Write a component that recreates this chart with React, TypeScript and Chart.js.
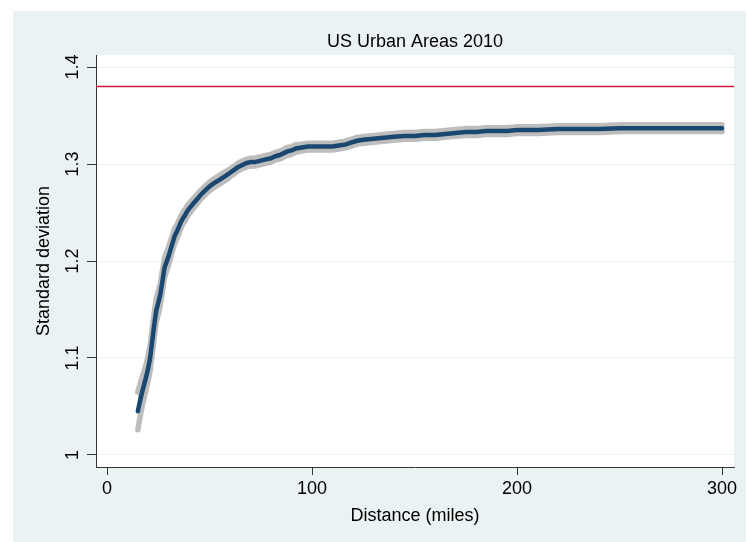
import React, { useEffect, useRef } from "react";
import { Chart, registerables } from "chart.js";

Chart.register(...registerables);

// ---- data ----
const distances = [
  15, 16, 17, 18, 19, 20, 21, 22, 23, 24, 25, 26, 27, 28, 29, 30, 31, 32, 33, 34, 35, 36, 37, 38, 39, 40,
  42, 44, 46, 48, 50, 52, 55, 58,
  60, 62, 64, 66, 68, 70, 72, 74, 76, 78, 80, 82, 84, 86, 88, 90, 92,
  95, 98, 101, 104, 107, 110, 113, 116, 119, 122, 125,
  130, 135, 140, 145, 150, 155, 160, 165, 170, 175, 180, 185, 190, 195, 200,
  210, 220, 230, 240, 250, 260, 270, 280, 290, 300,
];

const sdMean = [
  1.045, 1.055, 1.064, 1.072, 1.08, 1.089, 1.1, 1.117, 1.134, 1.149, 1.157, 1.166, 1.179, 1.193, 1.199, 1.205, 1.212, 1.219, 1.226, 1.23, 1.235, 1.24, 1.244, 1.247, 1.251, 1.254,
  1.259, 1.264, 1.269, 1.273, 1.277, 1.28, 1.284, 1.288,
  1.291, 1.294, 1.297, 1.299, 1.301, 1.302, 1.302, 1.303, 1.304, 1.305, 1.306, 1.308, 1.309, 1.311, 1.313, 1.314, 1.316,
  1.317, 1.318, 1.318, 1.318, 1.318, 1.318, 1.319, 1.32, 1.322, 1.324, 1.325,
  1.326, 1.327, 1.328, 1.329, 1.329, 1.33, 1.33, 1.331, 1.332, 1.333, 1.333, 1.334, 1.334, 1.334, 1.335,
  1.335, 1.336, 1.336, 1.336, 1.337, 1.337, 1.337, 1.337, 1.337, 1.337,
];

const ciUpper = [
  1.065, 1.072, 1.079, 1.086, 1.093, 1.102, 1.113, 1.13, 1.147, 1.161, 1.169, 1.177, 1.19, 1.203, 1.209, 1.214, 1.221, 1.227, 1.234, 1.237, 1.242, 1.246, 1.25, 1.253, 1.2565, 1.2595,
  1.264, 1.269, 1.2735, 1.2775, 1.2815, 1.2845, 1.2885, 1.2925,
  1.295, 1.298, 1.301, 1.303, 1.305, 1.306, 1.306, 1.307, 1.308, 1.309, 1.31, 1.312, 1.313, 1.315, 1.317, 1.318, 1.32,
  1.3205, 1.3215, 1.3215, 1.3215, 1.3215, 1.3215, 1.3225, 1.3235, 1.3255, 1.3275, 1.3285,
  1.3295, 1.3305, 1.3315, 1.3325, 1.3325, 1.3335, 1.3335, 1.3345, 1.3355, 1.3365, 1.3365, 1.3375, 1.3375, 1.3375, 1.3385,
  1.3385, 1.3395, 1.3395, 1.3395, 1.3405, 1.3405, 1.3405, 1.3405, 1.3405, 1.3405,
];

const ciLower = [
  1.026, 1.038, 1.049, 1.058, 1.067, 1.076, 1.087, 1.104, 1.121, 1.137, 1.145, 1.155, 1.168, 1.183, 1.189, 1.196, 1.203, 1.211, 1.218, 1.223, 1.228, 1.234, 1.238, 1.241, 1.2455, 1.2485,
  1.254, 1.259, 1.2645, 1.2685, 1.2725, 1.2755, 1.2795, 1.2835,
  1.287, 1.29, 1.293, 1.295, 1.297, 1.298, 1.298, 1.299, 1.3, 1.301, 1.302, 1.304, 1.305, 1.307, 1.309, 1.31, 1.312,
  1.3135, 1.3145, 1.3145, 1.3145, 1.3145, 1.3145, 1.3155, 1.3165, 1.3185, 1.3205, 1.3215,
  1.3225, 1.3235, 1.3245, 1.3255, 1.3255, 1.3265, 1.3265, 1.3275, 1.3285, 1.3295, 1.3295, 1.3305, 1.3305, 1.3305, 1.3315,
  1.3315, 1.3325, 1.3325, 1.3325, 1.3335, 1.3335, 1.3335, 1.3335, 1.3335, 1.3335,
];

const referenceLevel = 1.38;
const xTicks = [0, 100, 200, 300];
const yTicks = [1, 1.1, 1.2, 1.3, 1.4];
const xRange = [-5.4, 305.8];
const yRange = [0.9876, 1.4124];

const titleText = "US Urban Areas 2010";
const xTitle = "Distance (miles)";
const yTitle = "Standard deviation";

// ---- styles ----
const FONT = "'Liberation Sans', Arial, Helvetica, sans-serif";
const OUTER_BG = "#eaf2f3";
const AXIS = "#333333";
const NAVY = "#1a476f";
const GRAY = "#bdbdbd";
const RED = "#cf1a3d";

const toPoints = (ys: number[]) => distances.map((x, i) => ({ x, y: ys[i] }));

const backgroundPlugin = {
  id: "stataBackground",
  beforeDraw(chart: any) {
    const { ctx, width, height, chartArea } = chart;
    ctx.save();
    ctx.fillStyle = "#ffffff";
    ctx.fillRect(0, 0, width, height);
    ctx.fillStyle = OUTER_BG;
    ctx.fillRect(13, 11, width - 14, height - 11);
    ctx.fillStyle = "#ffffff";
    ctx.fillRect(chartArea.left, chartArea.top, chartArea.right - chartArea.left, chartArea.bottom - chartArea.top);
    ctx.restore();
  },
};

const yLabelPlugin = {
  id: "rotatedYLabels",
  afterDraw(chart: any) {
    const { ctx } = chart;
    const ys = chart.scales.y;
    ctx.save();
    ctx.fillStyle = "#000000";
    ctx.font = `18px ${FONT}`;
    ctx.textAlign = "center";
    ctx.textBaseline = "middle";
    ys.ticks.forEach((t: any) => {
      const py = ys.getPixelForValue(t.value);
      ctx.save();
      ctx.translate(73, py);
      ctx.rotate(-Math.PI / 2);
      ctx.fillText(String(Number(t.value.toFixed(1))), 0, 0);
      ctx.restore();
    });
    ctx.restore();
  },
};

export default function App() {
  const canvasRef = useRef<HTMLCanvasElement | null>(null);

  useEffect(() => {
    if (!canvasRef.current) return;
    const chart = new Chart(canvasRef.current, {
      type: "line",
      data: {
        datasets: [
          {
            label: "sd",
            data: toPoints(sdMean),
            borderColor: NAVY,
            borderWidth: 4.5,
            pointRadius: 0,
            borderCapStyle: "round",
            borderJoinStyle: "round",
            fill: false,
          },
          {
            label: "upper",
            data: toPoints(ciUpper),
            borderColor: GRAY,
            backgroundColor: GRAY,
            borderWidth: 5.5,
            pointRadius: 0,
            borderCapStyle: "round",
            borderJoinStyle: "round",
            fill: "+1",
          },
          {
            label: "lower",
            data: toPoints(ciLower),
            borderColor: GRAY,
            borderWidth: 5.5,
            pointRadius: 0,
            borderCapStyle: "round",
            borderJoinStyle: "round",
            fill: false,
          },
          {
            label: "reference",
            data: [
              { x: xRange[0], y: referenceLevel },
              { x: xRange[1], y: referenceLevel },
            ],
            borderColor: RED,
            borderWidth: 1.5,
            pointRadius: 0,
            fill: false,
          },
        ],
      },
      options: {
        animation: false,
        responsive: false,
        devicePixelRatio: 1,
        layout: { padding: { left: 0, right: 13, top: 0, bottom: 0 } },
        plugins: {
          legend: { display: false },
          tooltip: { enabled: false },
          title: {
            display: true,
            text: titleText,
            fullSize: false,
            color: "#000000",
            font: { family: FONT, size: 18, weight: "normal", lineHeight: 1.2 },
            padding: { top: 31.2, bottom: 2.2 },
          },
        },
        scales: {
          x: {
            type: "linear",
            min: xRange[0],
            max: xRange[1],
            afterBuildTicks: (scale: any) => {
              scale.ticks = xTicks.map((v) => ({ value: v }));
            },
            afterFit: (scale: any) => {
              scale.height = 75;
            },
            ticks: {
              color: "#000000",
              font: { family: FONT, size: 18, lineHeight: 1.2 },
              padding: 3,
              maxRotation: 0,
              minRotation: 0,
              callback: (v: any) => String(v),
            },
            grid: {
              drawOnChartArea: false,
              drawTicks: true,
              tickLength: 8,
              tickColor: AXIS,
              tickWidth: 1,
            },
            border: { display: true, color: AXIS, width: 1 },
            title: {
              display: true,
              text: xTitle,
              color: "#000000",
              font: { family: FONT, size: 18, lineHeight: 1.2 },
              padding: { top: 0, bottom: 15 },
            },
          },
          y: {
            type: "linear",
            min: yRange[0],
            max: yRange[1],
            afterBuildTicks: (scale: any) => {
              scale.ticks = yTicks.map((v) => ({ value: v }));
            },
            afterFit: (scale: any) => {
              scale.width = 96;
            },
            ticks: { display: false },
            grid: {
              color: OUTER_BG,
              lineWidth: 1,
              drawTicks: true,
              tickLength: 9,
              tickColor: AXIS,
              tickWidth: 1,
            },
            border: { display: true, color: AXIS, width: 1 },
            title: {
              display: true,
              text: yTitle,
              color: "#000000",
              font: { family: FONT, size: 18, lineHeight: 1.2 },
              padding: { top: 33, bottom: 0 },
            },
          },
        },
      },
      plugins: [backgroundPlugin, yLabelPlugin],
    } as any);
    return () => chart.destroy();
  }, []);

  return (
    <div style={{ position: "absolute", left: 0, top: 0, width: 747, height: 542 }}>
      <canvas ref={canvasRef} width={747} height={542} style={{ display: "block", width: 747, height: 542 }} />
    </div>
  );
}
